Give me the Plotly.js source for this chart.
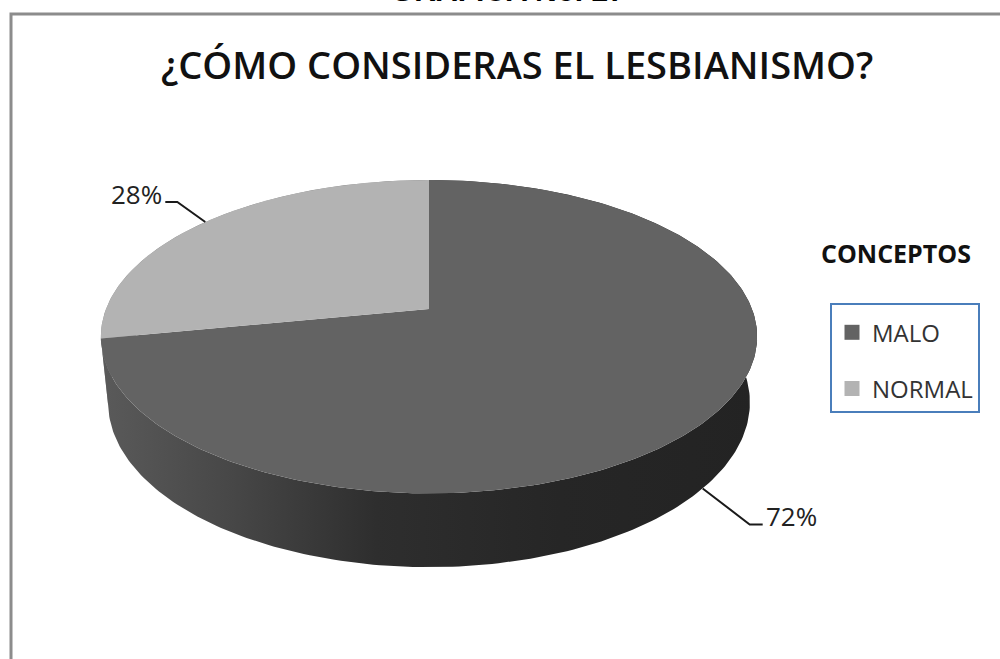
<!DOCTYPE html>
<html>
<head>
<meta charset="utf-8">
<script src="https://cdn.plot.ly/plotly-3.0.1.min.js"></script>
<style>html,body{margin:0;padding:0;background:#fff;}#chart{width:1000px;height:659px;}</style>
</head>
<body>
<div id="chart"></div>
<script>
// ---- data ----
const categories = ['MALO', 'NORMAL'];
const values = [72, 28];
const chartTitle = '¿CÓMO CONSIDERAS EL LESBIANISMO?';
const pageTitle = 'GRAFICA No. 27';
const legendTitle = 'CONCEPTOS';

// ---- style ----
const topColors = ['#636363', '#b3b3b3'];
const sideColors = ['#2a2a2a', '#8a8a8a'];
const FONT = 'Open Sans, Noto Sans, sans-serif';

// 3D pie projection (pixel-like axes)
const P = {cx: 429, cy: 309, F: 1615, D: 5, s: 0.47, h: 0.233};
P.c = Math.sqrt(1 - P.s * P.s);
function proj(tDeg, level) {
  const t = tDeg * Math.PI / 180;
  const X = Math.cos(t), Z = Math.sin(t);
  const Yh = level ? -P.h : 0;
  const yp = Yh * P.c + Z * P.s;
  const zp = P.D + Z * P.c - Yh * P.s;
  return [P.cx + P.F * X / zp, P.cy - P.F * yp / zp];
}
function arc(a0, a1, level) {
  const pts = [];
  const n = Math.max(2, Math.ceil(Math.abs(a1 - a0)));
  for (let i = 0; i <= n; i++) pts.push(proj(a0 + (a1 - a0) * i / n, level));
  return pts;
}

const total = values.reduce((a, b) => a + b, 0);
const slices = [];
let start = 90;
values.forEach((v, i) => {
  const sweep = v / total * 360;
  slices.push({i, a0: start, a1: start - sweep, mid: start - sweep / 2});
  start -= sweep;
});

const traces = [];
// sides
slices.slice().reverse().forEach(sl => {
  const topArc = arc(sl.a0, sl.a1, 0);
  const botArc = arc(sl.a1, sl.a0, 1);
  const pts = topArc.concat(botArc);
  const tr = {
    type: 'scatter', mode: 'lines', fill: 'toself',
    x: pts.map(p => p[0]).concat([pts[0][0]]),
    y: pts.map(p => p[1]).concat([pts[0][1]]),
    line: {width: 0, color: sideColors[sl.i]},
    fillcolor: sideColors[sl.i],
    hoverinfo: 'skip', showlegend: false
  };
  if (sl.i === 0) {
    tr.fillgradient = {type: 'horizontal', colorscale: [
      [0, '#5a5a5a'], [0.2, '#474747'], [0.42, '#2e2e2e'], [0.7, '#262626'], [1, '#232323']]};
  }
  traces.push(tr);
});
// top faces
slices.forEach(sl => {
  const c = [P.cx, P.cy];
  const pts = [c].concat(arc(sl.a0, sl.a1, 0)).concat([c]);
  traces.push({
    type: 'scatter', mode: 'lines', fill: 'toself',
    x: pts.map(p => p[0]), y: pts.map(p => p[1]),
    line: {width: 0, color: topColors[sl.i]},
    fillcolor: topColors[sl.i],
    hoverinfo: 'skip', showlegend: false
  });
});

// labels with leader lines
const annotations = [];
const leaderOffsets = {right: {dx: 47, dy: 36, hx: 13}, left: {dx: -28, dy: -20, hx: -12}};
slices.forEach(sl => {
  const midRad = sl.mid * Math.PI / 180;
  const front = Math.sin(midRad) < 0;
  const anchor = proj(sl.mid, front ? 1 : 0);
  const side = Math.cos(midRad) >= 0 ? 'right' : 'left';
  const o = leaderOffsets[side];
  const elbow = [anchor[0] + o.dx, anchor[1] + o.dy];
  const end = [elbow[0] + o.hx, elbow[1]];
  traces.push({
    type: 'scatter', mode: 'lines',
    x: [anchor[0], elbow[0], end[0]], y: [anchor[1], elbow[1], end[1]],
    line: {color: '#1a1a1a', width: 2}, hoverinfo: 'skip', showlegend: false
  });
  annotations.push({
    xref: 'x', yref: 'y', x: end[0] + (side === 'right' ? 1 : -1), y: end[1] - 8,
    xanchor: side === 'right' ? 'left' : 'right', yanchor: 'middle',
    text: Math.round(values[sl.i] / total * 100) + '%', showarrow: false,
    font: {family: FONT, size: 26, color: '#222'}
  });
});

// legend entries
categories.forEach((c, i) => {
  traces.push({
    type: 'scatter', mode: 'markers', x: [null], y: [null], name: c, legendgroup: c,
    marker: {symbol: 'square', size: 15, color: topColors[i]}, hoverinfo: 'skip'
  });
});

annotations.push({
  xref: 'x', yref: 'y', x: 517, y: 64, xanchor: 'center', yanchor: 'middle',
  text: chartTitle, showarrow: false, font: {family: FONT, size: 38, weight: 600, color: '#111'}
});
annotations.push({
  xref: 'x', yref: 'y', x: 896, y: 253, xanchor: 'center', yanchor: 'middle',
  text: '<b>' + legendTitle + '</b>', showarrow: false, font: {family: FONT, size: 25, color: '#111'}
});
annotations.push({
  xref: 'x', yref: 'y', x: 508, y: 9, xanchor: 'center', yanchor: 'bottom',
  text: '<b>' + pageTitle + '</b>', showarrow: false,
  font: {family: 'Liberation Sans, Arial, sans-serif', size: 30, color: '#000'}
});

const layout = {
  width: 1000, height: 659,
  margin: {l: 0, r: 0, t: 0, b: 0},
  paper_bgcolor: '#ffffff', plot_bgcolor: '#ffffff',
  xaxis: {range: [0, 1000], visible: false, fixedrange: true},
  yaxis: {range: [659, 0], visible: false, fixedrange: true},
  showlegend: true,
  legend: {
    x: 0.83, xanchor: 'left', y: 1 - 303 / 659, yanchor: 'top',
    bordercolor: '#4a7ebb', borderwidth: 2, bgcolor: '#ffffff',
    traceorder: 'grouped', tracegroupgap: 22,
    title: {text: ' ', font: {size: 4}},
    font: {family: FONT, size: 24, color: '#333'}
  },
  shapes: [{
    type: 'path', xref: 'x', yref: 'y', path: 'M 11 659 L 11 14 L 1000 14',
    line: {color: '#8c8c8c', width: 3}
  }],
  annotations: annotations
};

Plotly.newPlot('chart', traces, layout, {displayModeBar: false, staticPlot: true});
</script>
</body>
</html>
